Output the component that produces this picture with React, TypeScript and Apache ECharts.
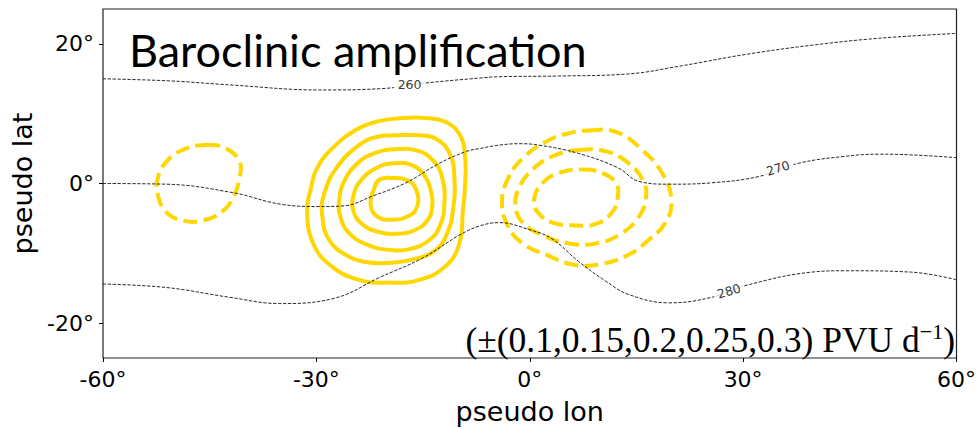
import React, { useEffect, useRef } from "react";
import * as echarts from "echarts";

// axis ticks
const lonTicks = [-60, -30, 0, 30, 60];
const latTicks = [-20, 0, 20];

// theta contours (K), [lon, lat]
const theta260 = [[-60,15.0],[-50.6,14.7],[-41.8,14.1],[-29.6,13.4],[-20.7,13.6],[-14.6,14.4],[-7.1,15.1],[-4.3,15.3],[4.1,15.4],[13.9,15.7],[21.0,16.8],[30.4,18.5],[39.6,19.8],[49.0,20.8],[60,21.5]];
const theta270 = [[-60,0.0],[-51.1,-0.1],[-41.8,-1.3],[-34.8,-3.0],[-29.6,-3.3],[-26.1,-3.2],[-22.1,-1.8],[-17.4,0.1],[-12.7,2.9],[-8.9,4.6],[-7.1,5.0],[-4.3,5.5],[-1.5,5.7],[1.3,5.5],[6.9,4.3],[12.5,2.2],[15.3,0.3],[19.6,-0.1],[25.6,0.1],[32.2,1.0],[37.8,2.9],[44.4,3.9],[49.0,4.2],[53.7,4.1],[60,3.7]];
const theta280 = [[-60,-14.4],[-51.1,-14.9],[-42.2,-16.3],[-35.2,-17.2],[-27.3,-16.4],[-21.2,-13.5],[-15.1,-10.7],[-9.9,-7.4],[-7.1,-6.1],[-4.3,-5.6],[-0.1,-6.6],[3.1,-7.9],[6.9,-11.2],[10.7,-14.0],[13.9,-15.9],[19.6,-17.1],[25.6,-16.3],[30.4,-14.6],[39.6,-12.7],[44.4,-12.5],[53.7,-12.7],[60,-13.8]];
const thetaLabels: [number, number, string, number][] = [
  [-16.9, 14.2, "260", 0],
  [34.9, 2.2, "270", 17],
  [28.0, -15.4, "280", 17],
];

// positive PV tendency contours (0.1 ... 0.3)
const pos010 = [[-18.6,9.3],[-14.8,9.4],[-11.8,8.8],[-9.8,6.9],[-9.1,3.9],[-9.1,-0.4],[-9.4,-3.9],[-9.9,-8.6],[-11.8,-11.8],[-15.5,-13.8],[-19.8,-14.2],[-24.0,-13.8],[-27.8,-11.9],[-30.4,-8.7],[-31.3,-3.9],[-30.7,-0.4],[-29.9,2.2],[-27.8,5.0],[-24.4,7.7],[-21.4,8.9]];
const pos015 = [[-19.1,6.9],[-15.5,6.9],[-13.2,6.4],[-11.3,4.4],[-10.6,1.0],[-10.8,-3.9],[-11.6,-7.1],[-13.2,-9.5],[-16.5,-10.9],[-20.5,-11.4],[-23.3,-11.2],[-25.4,-10.5],[-28.2,-8.1],[-29.2,-4.3],[-28.9,-1.5],[-27.2,2.2],[-24.0,5.5],[-21.4,6.7]];
const pos020 = [[-19.1,4.9],[-15.8,4.7],[-13.6,3.3],[-12.3,0.8],[-12.0,-2.9],[-12.6,-6.0],[-14.1,-8.1],[-16.9,-9.4],[-19.8,-9.5],[-22.8,-8.8],[-25.4,-7.1],[-26.6,-4.9],[-26.8,-2.5],[-26.1,0.3],[-24.2,2.9],[-21.9,4.3]];
const pos025 = [[-19.1,2.9],[-16.5,2.6],[-14.7,1.0],[-13.9,-1.1],[-13.7,-3.2],[-14.4,-5.3],[-16.2,-6.7],[-18.6,-7.2],[-21.4,-6.9],[-23.7,-5.7],[-24.8,-3.9],[-24.8,-1.8],[-23.7,0.5],[-21.4,2.3]];
const pos030 = [[-19.5,0.8],[-16.9,0.3],[-15.8,-1.4],[-15.8,-3.2],[-16.9,-4.6],[-19.5,-5.2],[-21.6,-4.6],[-22.4,-2.8],[-21.9,-0.8],[-21.2,0.5]];

// negative PV tendency contours
const negEast010 = [[8.3,7.6],[12.1,7.4],[15.6,5.0],[18.6,1.5],[19.9,-2.3],[19.1,-5.6],[16.7,-8.1],[13.9,-10.2],[9.7,-11.6],[6.0,-11.6],[2.3,-10.2],[-1.0,-8.6],[-3.1,-6.0],[-3.9,-2.7],[-3.1,0.6],[-1.0,3.6],[2.3,6.0],[5.1,7.1]];
const negEast015 = [[6.9,4.8],[10.7,4.6],[13.9,2.9],[16.0,0.3],[16.3,-2.3],[15.1,-5.1],[12.5,-7.4],[9.3,-8.6],[5.5,-8.6],[1.8,-7.4],[-1.0,-5.6],[-2.0,-3.2],[-1.5,-0.6],[0.4,2.0],[3.2,3.9]];
const negEast020 = [[7.4,2.0],[10.2,1.5],[12.1,0.1],[12.4,-1.8],[11.6,-4.1],[9.3,-5.8],[6.5,-6.0],[3.2,-5.6],[1.1,-4.1],[0.6,-2.3],[1.8,0.1],[4.1,1.5]];
const negWest010 = [[-45.5,5.5],[-42.7,5.0],[-40.8,3.1],[-40.8,0.8],[-41.7,-2.0],[-43.1,-3.9],[-46.0,-5.3],[-48.8,-5.3],[-51.1,-4.1],[-52.3,-1.6],[-52.3,0.8],[-51.1,3.1],[-48.8,4.8]];

const posContours = [pos010, pos015, pos020, pos025, pos030];
const negContours = [negEast010, negEast015, negEast020, negWest010];
const thetaContours = [theta260, theta270, theta280];

const titleText = "Baroclinic amplification";
const noteMain = "(±(0.1,0.15,0.2,0.25,0.3) PVU d";
const noteSup = "−1";

const GOLD = "#FFD700";

function ringSeries(contour: number[][], dashed: boolean) {
  return {
    type: "custom",
    data: contour,
    silent: true,
    z: 2,
    renderItem: (params: any, api: any) => {
      if (params.dataIndex !== 0) return null;
      const pts = contour.map((p) => api.coord(p));
      return {
        type: "polygon",
        shape: { points: pts, smooth: 0.45 },
        style: {
          fill: "none",
          stroke: GOLD,
          lineWidth: 4,
          lineDash: dashed ? [14, 6.4] : null,
          lineCap: "butt",
        },
      };
    },
  };
}

export default function App() {
  const ref = useRef<HTMLDivElement>(null);
  useEffect(() => {
    document.body.style.margin = "0";
    if (!ref.current) return;
    const chart = echarts.init(ref.current, null, { renderer: "svg" });
    const series: any[] = [];
    posContours.forEach((c) => series.push(ringSeries(c, false)));
    negContours.forEach((c) => series.push(ringSeries(c, true)));
    thetaContours.forEach((c) =>
      series.push({
        type: "line", data: c, smooth: 0.4, symbol: "none", silent: true, z: 3,
        lineStyle: { color: "#111", width: 0.9, type: [3.3, 1.6] },
      })
    );
    series.push({
      type: "scatter", symbolSize: 0, silent: true, z: 4,
      data: thetaLabels.map((l) => ({
        value: [l[0], l[1], l[2]],
        label: { rotate: l[3] },
      })),
      label: {
        show: true, position: "inside", formatter: (p: any) => p.value[2],
        fontFamily: "DejaVu Sans", fontSize: 12.5, color: "#000",
        backgroundColor: "#fff", padding: [0, 4],
      },
    });
    chart.setOption({
      animation: false,
      grid: { left: 103, right: 21, top: 9, bottom: 65, show: true, borderColor: "#222", borderWidth: 1.2, backgroundColor: "transparent" },
      xAxis: {
        type: "value", min: lonTicks[0], max: lonTicks[lonTicks.length - 1], interval: 30,
        name: "pseudo lon", nameLocation: "middle", nameGap: 40,
        nameTextStyle: { fontFamily: "DejaVu Sans", fontSize: 27, color: "#000" },
        axisLine: { show: false, onZero: false },
        axisTick: { show: true, length: 4, lineStyle: { color: "#000", width: 1 } },
        axisLabel: { margin: 10, fontFamily: "DejaVu Sans", fontSize: 22, color: "#000", formatter: (v: number) => `${v}°`, showMinLabel: true, showMaxLabel: true },
        splitLine: { show: false },
      },
      yAxis: {
        type: "value", min: -25, max: 25,
        name: "pseudo lat", nameLocation: "middle", nameGap: 60,
        nameTextStyle: { fontFamily: "DejaVu Sans", fontSize: 27, color: "#000" },
        axisLine: { show: false, onZero: false },
        axisTick: { show: true, length: 4, customValues: latTicks, lineStyle: { color: "#000", width: 1 } },
        axisLabel: { margin: 9, customValues: latTicks, fontFamily: "DejaVu Sans", fontSize: 22, color: "#000", formatter: (v: number) => `${v}°` },
        splitLine: { show: false },
      },
      graphic: [
        {
          type: "text", x: 129, y: 50, z: 10,
          style: { text: titleText, fontFamily: "Lato", fontSize: 45, fill: "#000", verticalAlign: "middle", align: "left" },
        },
        {
          type: "text", x: 955, y: 320, z: 10,
          style: {
            text: `{a|${noteMain}}{s|${noteSup}}{a|)}`,
            align: "right", verticalAlign: "top",
            rich: {
              a: { fontFamily: "Liberation Serif", fontSize: 35.5, lineHeight: 39, fill: "#000" },
              s: { fontFamily: "Liberation Serif", fontSize: 22, lineHeight: 25, verticalAlign: "top", fill: "#000" },
            },
          },
        },
      ],
      series,
    });
    return () => chart.dispose();
  }, []);
  return <div ref={ref} style={{ width: 979, height: 430 }} />;
}
